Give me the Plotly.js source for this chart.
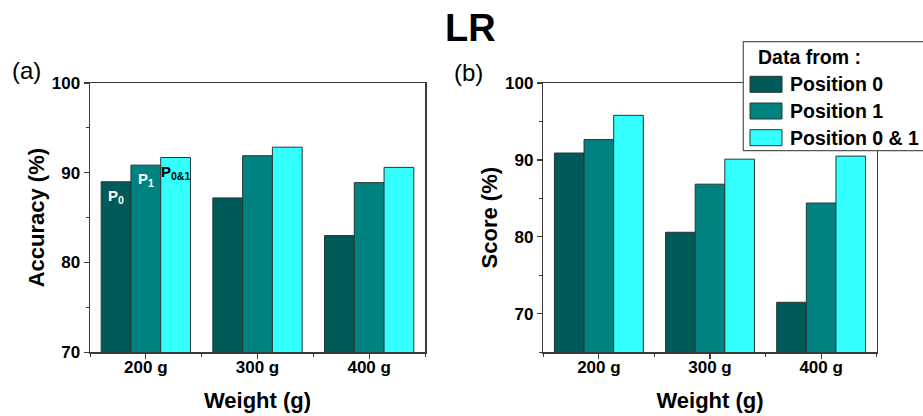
<!DOCTYPE html>
<html>
<head>
<meta charset="utf-8">
<script src="https://cdn.plot.ly/plotly-3.0.1.min.js"></script>
<style>html,body{margin:0;padding:0;background:#fff;}#chart{width:923px;height:416px;}</style>
</head>
<body>
<div id="chart"></div>
<script>
// ---- data ----
const categories = ["200 g", "300 g", "400 g"];
const seriesNames = ["Position 0", "Position 1", "Position 0 & 1"];
const seriesColors = ["#005a58", "#008280", "#33ffff"];
const accuracyP0 = [89.0, 87.2, 83.0];
const accuracyP1 = [90.85, 91.9, 88.9];
const accuracyP01 = [91.7, 92.85, 90.6];
const scoreP0 = [90.9, 80.6, 71.5];
const scoreP1 = [92.65, 86.85, 84.4];
const scoreP01 = [95.8, 90.1, 90.5];
const barLabels = ["P<sub>0</sub>", "P<sub>1</sub>", "P<sub>0&1</sub>"];
const barLabelColors = ["#ffffff", "#ffffff", "#000000"];

const FONT = "Liberation Sans, Arial, sans-serif";
const xIdx = categories.map((_, i) => i);

const accSeries = [accuracyP0, accuracyP1, accuracyP01];
const scoreSeries = [scoreP0, scoreP1, scoreP01];

const traces = [];
accSeries.forEach((vals, k) => {
  traces.push({type: "bar", x: xIdx, y: vals, name: seriesNames[k], xaxis: "x", yaxis: "y",
    marker: {color: seriesColors[k], line: {color: "#263636", width: 1}}, showlegend: false, hoverinfo: "y"});
});
scoreSeries.forEach((vals, k) => {
  traces.push({type: "bar", x: xIdx, y: vals, name: seriesNames[k], xaxis: "x2", yaxis: "y2",
    marker: {color: seriesColors[k], line: {color: "#263636", width: 1}}, showlegend: false, hoverinfo: "y"});
});

const W = 923, H = 416;
const axisLine = "#3a3a3a";
function xAxis(domain, anchor) {
  return {domain: domain, anchor: anchor, range: [-0.5, 2.5], tickvals: xIdx, ticktext: categories,
    showline: true, linecolor: axisLine, linewidth: 1.5, mirror: true, showgrid: false, zeroline: false,
    ticks: "outside", ticklen: 5, tickwidth: 1.2, tickcolor: axisLine, ticklabelstandoff: -6,
    minor: {tick0: 0.5, dtick: 1, ticks: "outside", ticklen: 3, tickcolor: axisLine, tickwidth: 1},
    tickfont: {family: FONT, size: 17, color: "#000", weight: "bold"},
    title: {text: "Weight (g)", font: {family: FONT, size: 22, color: "#000", weight: "bold"}, standoff: 16}};
}
function yAxis(domain, anchor, range, title) {
  return {domain: domain, anchor: anchor, range: range, tick0: 0, dtick: 10,
    showline: true, linecolor: axisLine, linewidth: 1.5, mirror: true, showgrid: false, zeroline: false,
    ticks: "outside", ticklen: 5, tickwidth: 1.2, tickcolor: axisLine,
    minor: {tick0: 0, dtick: 5, ticks: "outside", ticklen: 3, tickcolor: axisLine, tickwidth: 1},
    tickfont: {family: FONT, size: 17, color: "#000", weight: "bold"},
    title: {text: title, font: {family: FONT, size: 22, color: "#000", weight: "bold"}, standoff: 1}};
}

const yDom = [1 - 352.3 / H, 1 - 83 / H];
const annotations = [
  {text: "LR", x: 470.5 / W, y: 1 - 27.5 / H, xref: "paper", yref: "paper", showarrow: false,
   xanchor: "center", yanchor: "middle", font: {family: FONT, size: 38, color: "#000", weight: "bold"}},
  {text: "(a)", x: 26.7 / W, y: 1 - 70 / H, xref: "paper", yref: "paper", showarrow: false,
   xanchor: "center", yanchor: "middle", font: {family: FONT, size: 24, color: "#000"}},
  {text: "(b)", x: 468 / W, y: 1 - 72 / H, xref: "paper", yref: "paper", showarrow: false,
   xanchor: "center", yanchor: "middle", font: {family: FONT, size: 24, color: "#000"}}
];
// in-bar labels for first group of panel (a)
const barW = 0.8 / 3;
accSeries.forEach((vals, k) => {
  annotations.push({text: barLabels[k], x: xIdx[0] + (k - 1) * barW, y: vals[0], xref: "x", yref: "y",
    showarrow: false, xanchor: "center", yanchor: "top", yshift: -3,
    font: {family: FONT, size: 15, color: barLabelColors[k], weight: "bold"}});
});

// legend box (drawn manually to match the wide swatches)
const shapes = [
  {type: "rect", xref: "paper", yref: "paper", x0: 743.3 / W, x1: 1.01, y0: 1 - 150.7 / H, y1: 1 - 41.7 / H,
   fillcolor: "#ffffff", line: {color: "#555", width: 1.2}, layer: "above"}
];
annotations.push({text: "Data from :", x: 756 / W, y: 1 - 56.7 / H, xref: "paper", yref: "paper", showarrow: false,
  xanchor: "left", yanchor: "middle", font: {family: FONT, size: 19.5, color: "#000", weight: "bold"}});
const rowY = [84.3, 111, 137.7];
seriesNames.forEach((nm, k) => {
  shapes.push({type: "rect", xref: "paper", yref: "paper", x0: 750 / W, x1: 782 / W,
    y0: 1 - (rowY[k] + 8) / H, y1: 1 - (rowY[k] - 8) / H, fillcolor: seriesColors[k],
    line: {color: "#263636", width: 1}, layer: "above"});
  annotations.push({text: nm, x: 788 / W, y: 1 - rowY[k] / H, xref: "paper", yref: "paper", showarrow: false,
    xanchor: "left", yanchor: "middle", font: {family: FONT, size: 19.5, color: "#000", weight: "bold"}});
});

const layout = {
  width: W, height: H, margin: {l: 0, r: 0, t: 0, b: 0},
  paper_bgcolor: "#fff", plot_bgcolor: "#fff",
  barmode: "group", bargap: 0.2, bargroupgap: 0,
  xaxis: xAxis([90 / W, 425 / W], "y"),
  yaxis: yAxis(yDom, "x", [70, 100], "Accuracy (%)"),
  xaxis2: xAxis([543.3 / W, 876.7 / W], "y2"),
  yaxis2: yAxis(yDom, "x2", [65, 100], "Score (%)"),
  annotations: annotations, shapes: shapes, showlegend: false,
  font: {family: FONT}
};
Plotly.newPlot("chart", traces, layout, {staticPlot: true, displayModeBar: false});
</script>
</body>
</html>
